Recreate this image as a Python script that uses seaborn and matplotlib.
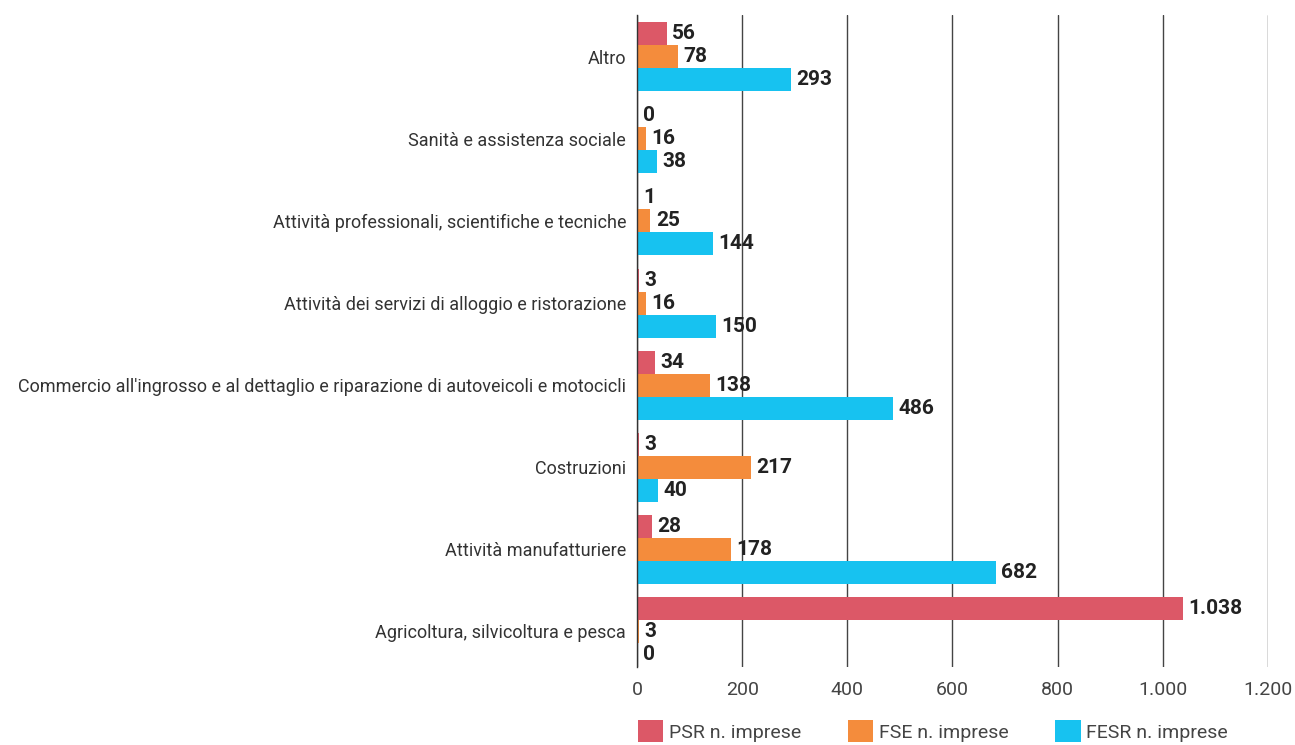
import pandas as pd
import matplotlib.pyplot as plt
import seaborn as sns

categories = [
    "Altro",
    "Sanità e assistenza sociale",
    "Attività professionali, scientifiche e tecniche",
    "Attività dei servizi di alloggio e ristorazione",
    "Commercio all'ingrosso e al dettaglio e riparazione di autoveicoli e motocicli",
    "Costruzioni",
    "Attività manufatturiere",
    "Agricoltura, silvicoltura e pesca",
]
series = ["PSR n. imprese", "FSE n. imprese", "FESR n. imprese"]
psr = [56, 0, 1, 3, 34, 3, 28, 1038]
fse = [78, 16, 25, 16, 138, 217, 178, 3]
fesr = [293, 38, 144, 150, 486, 40, 682, 0]
colors = ["#dc5867", "#f48c3c", "#17c2f0"]
x_ticks = [0, 200, 400, 600, 800, 1000, 1200]


def it_fmt(v):
    return f"{int(v):,}".replace(",", ".")


df = pd.DataFrame({
    "categoria": categories * 3,
    "serie": [s for s in series for _ in categories],
    "valore": psr + fse + fesr,
})

sns.set_style("white")
plt.rcParams["font.family"] = ["Roboto", "DejaVu Sans"]

fig = plt.figure(figsize=(12.95, 7.45), dpi=100)
ax = fig.add_axes([0.492, 0.105, 0.487, 0.875])

sns.barplot(data=df, y="categoria", x="valore", hue="serie", order=categories,
            hue_order=series, palette=colors, orient="h", width=0.84,
            saturation=1, linewidth=0, ax=ax, legend=True)

for cont in ax.containers:
    ax.bar_label(cont, labels=[it_fmt(b.get_width()) for b in cont],
                 padding=4, fontsize=15, fontweight="bold", color="#222222")

ax.set_xlim(0, 1200)
ax.set_ylim(7.43, -0.51)
ax.set_xticks(x_ticks)
ax.set_xticklabels([it_fmt(t) for t in x_ticks], fontsize=14, color="#444444")
ax.tick_params(axis="x", length=0, pad=10)
ax.tick_params(axis="y", length=0, pad=8, labelsize=13, labelcolor="#333333")
ax.xaxis.grid(True, color="#444444", linewidth=1)
ax.set_axisbelow(True)
ax.set_xlabel("")
ax.set_ylabel("")
for s in ["top", "right", "bottom"]:
    ax.spines[s].set_visible(False)
ax.spines["left"].set_color("#333333")
ax.spines["left"].set_linewidth(1)

handles, labels = ax.get_legend_handles_labels()
ax.get_legend().remove()
fig.legend(handles, labels, loc="lower left", bbox_to_anchor=(0.479, -0.02),
           ncol=3, frameon=False, fontsize=14, handlelength=1.3,
           handleheight=1.4, handletextpad=0.3, columnspacing=2.4,
           labelcolor="#444444")

fig.savefig("out.png", dpi=100)
